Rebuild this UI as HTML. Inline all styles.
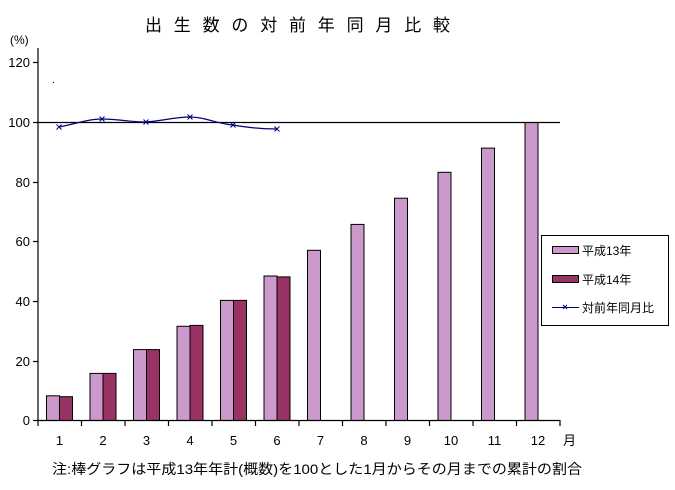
<!DOCTYPE html>
<html><head><meta charset="utf-8"><style>body{margin:0;background:#fff}svg{display:block}text{font-family:"Liberation Sans","Noto Sans CJK JP",sans-serif;font-size:13px;fill:#000}</style></head><body>
<svg width="675" height="490" xmlns="http://www.w3.org/2000/svg">
<text x="145" y="31" textLength="305" lengthAdjust="spacing" style="font-size:17px">出生数の対前年同月比較</text>
<text x="10" y="44" style="font-size:12px">(%)</text>
<g stroke="#000" stroke-width="1" fill="#cc99cc">
<rect x="46.5" y="395.8" width="13" height="24.7"/>
<rect x="90" y="373.4" width="13" height="47.1"/>
<rect x="133.5" y="349.6" width="13" height="70.9"/>
<rect x="177" y="326.3" width="13" height="94.2"/>
<rect x="220.5" y="300.4" width="13" height="120.1"/>
<rect x="264" y="276" width="13" height="144.5"/>
<rect x="307.5" y="250.3" width="13" height="170.2"/>
<rect x="351" y="224.4" width="13" height="196.1"/>
<rect x="394.5" y="198.2" width="13" height="222.3"/>
<rect x="438" y="172.3" width="13" height="248.2"/>
<rect x="481.5" y="148.1" width="13" height="272.4"/>
<rect x="525" y="122.5" width="13" height="298"/>
</g>
<g stroke="#000" stroke-width="1" fill="#993366">
<rect x="59.5" y="396.7" width="13" height="23.8"/>
<rect x="103" y="373.4" width="13" height="47.1"/>
<rect x="146.5" y="349.6" width="13" height="70.9"/>
<rect x="190" y="325.4" width="13" height="95.1"/>
<rect x="233.5" y="300.4" width="13" height="120.1"/>
<rect x="277" y="276.9" width="13" height="143.6"/>
</g>
<g stroke="#000" stroke-width="1.2">
<line x1="38" y1="48" x2="38" y2="421"/>
<line x1="38" y1="420.5" x2="560" y2="420.5"/>
<line x1="38" y1="122.5" x2="560" y2="122.5"/>
<line x1="33" y1="62.5" x2="38" y2="62.5"/><line x1="33" y1="122.5" x2="38" y2="122.5"/>
<line x1="33" y1="182.5" x2="38" y2="182.5"/><line x1="33" y1="241.5" x2="38" y2="241.5"/>
<line x1="33" y1="301.5" x2="38" y2="301.5"/><line x1="33" y1="361.5" x2="38" y2="361.5"/>
<line x1="33" y1="420.5" x2="38" y2="420.5"/>
<line x1="38" y1="420" x2="38" y2="426"/>
<line x1="81.5" y1="420" x2="81.5" y2="426"/><line x1="125" y1="420" x2="125" y2="426"/>
<line x1="168.5" y1="420" x2="168.5" y2="426"/><line x1="212" y1="420" x2="212" y2="426"/>
<line x1="255.5" y1="420" x2="255.5" y2="426"/><line x1="299" y1="420" x2="299" y2="426"/>
<line x1="342.5" y1="420" x2="342.5" y2="426"/><line x1="386" y1="420" x2="386" y2="426"/>
<line x1="429.5" y1="420" x2="429.5" y2="426"/><line x1="473" y1="420" x2="473" y2="426"/>
<line x1="516.5" y1="420" x2="516.5" y2="426"/><line x1="560" y1="420" x2="560" y2="426"/>
</g>
<g text-anchor="end">
<text x="30" y="67">120</text><text x="30" y="127">100</text><text x="30" y="187">80</text><text x="30" y="246">60</text><text x="30" y="306">40</text><text x="30" y="366">20</text><text x="30" y="425">0</text>
</g>
<g text-anchor="middle">
<text x="59.5" y="445">1</text><text x="103" y="445">2</text><text x="146.5" y="445">3</text><text x="190" y="445">4</text><text x="233.5" y="445">5</text><text x="277" y="445">6</text><text x="320.5" y="445">7</text><text x="364" y="445">8</text><text x="407.5" y="445">9</text><text x="451" y="445">10</text><text x="494.5" y="445">11</text><text x="538" y="445">12</text>
</g>
<text x="563" y="445">月</text>
<rect x="53" y="82" width="1" height="1" fill="#000"/>
<path d="M59,127 C75,124 88,119 102,119 C118,119 130,122 146,122 C162,121 175,117 190,117 C205,117 218,124 233,125 C250,128 262,129 277,129" fill="none" stroke="#000080" stroke-width="1.2"/>
<g stroke="#000080" stroke-width="1">
<path d="M56.5,124.5 l5,5 M61.5,124.5 l-5,5"/>
<path d="M99.5,116.5 l5,5 M104.5,116.5 l-5,5"/>
<path d="M143.5,119.5 l5,5 M148.5,119.5 l-5,5"/>
<path d="M187.5,114.5 l5,5 M192.5,114.5 l-5,5"/>
<path d="M230.5,122.5 l5,5 M235.5,122.5 l-5,5"/>
<path d="M274.5,126.5 l5,5 M279.5,126.5 l-5,5"/>
</g>
<rect x="541.5" y="235.5" width="127" height="90" fill="#fff" stroke="#000"/>
<rect x="552.5" y="246.5" width="26" height="7" fill="#cc99cc" stroke="#000"/>
<text x="582" y="255" style="font-size:12px">平成13年</text>
<rect x="552.5" y="275.5" width="26" height="7" fill="#993366" stroke="#000"/>
<text x="582" y="284" style="font-size:12px">平成14年</text>
<line x1="552" y1="307.5" x2="579" y2="307.5" stroke="#000080"/>
<path d="M563,305 l4,4 M567,305 l-4,4" stroke="#000080"/>
<text x="582" y="312" style="font-size:12px">対前年同月比</text>
<text x="52" y="474" textLength="530" lengthAdjust="spacingAndGlyphs" style="font-size:14px">注:棒グラフは平成13年年計(概数)を100とした1月からその月までの累計の割合</text>
</svg>
</body></html>
